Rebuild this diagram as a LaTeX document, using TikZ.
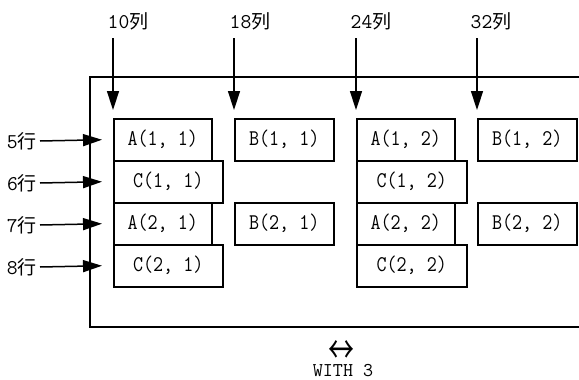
\documentclass[tikz,border=0pt]{standalone}
\usepackage{fontspec}
\usepackage{graphicx}
\newfontfamily\cjk{Noto Sans CJK SC}
\usetikzlibrary{arrows.meta}
\newcommand\tall[1]{\scalebox{1}[1.15]{#1}}
\begin{document}
\begin{tikzpicture}[x=1pt,y=-1pt,
  every node/.style={inner sep=0pt, font=\ttfamily\fontsize{19.5}{19.5}\selectfont},
  cell/.style={draw, line width=1.5pt, minimum height=42pt, anchor=north west},
  narrow/.style={cell, minimum width=98pt},
  wide/.style={cell, minimum width=109pt},
  lbl/.style={font=\ttfamily\fontsize{21}{21}\selectfont},
  arr/.style={line width=1.5pt, -{Triangle[length=19pt,width=12pt]}},
  frame/.style={line width=1.5pt}]
\useasboundingbox (0,0) rectangle (579,380);
% frame
\draw[frame] (579,77) -- (90,77) -- (90,327) -- (579,327);
% boxes
\node[narrow] (a11) at (113,118) {\tall{A(1, 1)}};
\node[wide]   (c11) at (113,160) {\tall{C(1, 1)}};
\node[narrow] (a21) at (113,202) {\tall{A(2, 1)}};
\node[wide]   (c21) at (113,244) {\tall{C(2, 1)}};
\node[narrow, minimum width=99pt] (b11) at (234,118) {\tall{B(1, 1)}};
\node[narrow, minimum width=99pt] (b21) at (234,202) {\tall{B(2, 1)}};
\node[narrow] (a12) at (356,118) {\tall{A(1, 2)}};
\node[wide, minimum width=110pt] (c12) at (356,160) {\tall{C(1, 2)}};
\node[narrow] (a22) at (356,202) {\tall{A(2, 2)}};
\node[wide, minimum width=110pt] (c22) at (356,244) {\tall{C(2, 2)}};
\node[narrow, minimum width=99pt] (b12) at (477,118) {\tall{B(1, 2)}};
\node[narrow, minimum width=99pt] (b22) at (477,202) {\tall{B(2, 2)}};
% column labels
\node[lbl] (k10) at (128,21) {10{\cjk\fontsize{19}{19}\selectfont 列}};
\node[lbl] (k18) at (250,21) {18{\cjk\fontsize{19}{19}\selectfont 列}};
\node[lbl] (k24) at (371,21) {24{\cjk\fontsize{19}{19}\selectfont 列}};
\node[lbl] (k32) at (491,21) {32{\cjk\fontsize{19}{19}\selectfont 列}};
\coordinate (t10) at (113,38);
\coordinate (t18) at (234,38);
\coordinate (t24) at (356,38);
\coordinate (t32) at (477,38);
\draw[arr] (t10) -- ([yshift=8pt]a11.north west);
\draw[arr] (t18) -- ([yshift=8pt]b11.north west);
\draw[arr] (t24) -- ([yshift=8pt]a12.north west);
\draw[arr] (t32) -- ([yshift=8pt]b12.north west);
% row labels
\node[lbl, anchor=east] (r5) at (37,141) {5{\cjk\fontsize{19}{19}\selectfont 行}};
\node[lbl, anchor=east] (r6) at (37,183) {6{\cjk\fontsize{19}{19}\selectfont 行}};
\node[lbl, anchor=east] (r7) at (37,225) {7{\cjk\fontsize{19}{19}\selectfont 行}};
\node[lbl, anchor=east] (r8) at (37,267) {8{\cjk\fontsize{19}{19}\selectfont 行}};
\draw[arr] ([xshift=3pt]r5.east) -- ([xshift=-11pt]a11.west);
\draw[arr] ([xshift=3pt]r6.east) -- ([xshift=-11pt]c11.west);
\draw[arr] ([xshift=3pt]r7.east) -- ([xshift=-11pt]a21.west);
\draw[arr] ([xshift=3pt]r8.east) -- ([xshift=-11pt]c21.west);
% bottom note
\node[anchor=base] (sym) at (341,363) {\smash{\scalebox{1}[1.45]{\cjk\fontsize{26}{26}\selectfont ↔}}};
\node (with) at (343,370.5) {WITH 3};
\end{tikzpicture}
\end{document}
